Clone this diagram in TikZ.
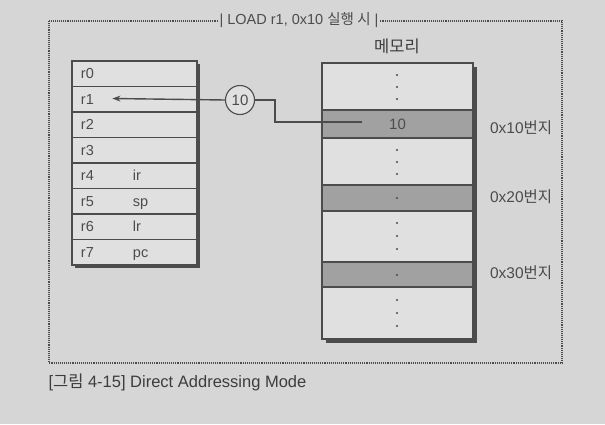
\documentclass[tikz,border=0pt]{standalone}
\usepackage{fontspec}
\setmainfont{Liberation Sans}
\newfontfamily\kr{Noto Sans CJK KR}
\usetikzlibrary{arrows.meta}

\definecolor{paper}{gray}{0.84}
\definecolor{cellbg}{gray}{0.88}
\definecolor{bandbg}{gray}{0.63}
\definecolor{ink}{gray}{0.30}

\begin{document}
\begin{tikzpicture}[
  x=1pt, y=-1pt,
  regrow/.style={draw=ink, line width=1.1pt, fill=cellbg, minimum width=125pt, minimum height=25.5pt, inner sep=0pt},
  memband/.style={draw=ink, line width=1.1pt, fill=bandbg, minimum width=151pt, inner sep=0pt},
  lbl/.style={text=ink, font=\fontsize{14.5}{16}\selectfont, text height=10pt, text depth=0pt},
  memdot/.style={fill=ink, circle, inner sep=0pt, minimum size=2.2pt},
]

% 배경과 영역
\fill[paper] (0,0) rectangle (605,424);
\useasboundingbox (0,0) rectangle (605,424);

% 점선 테두리와 제목
\draw[ink, densely dotted, line width=1.1pt] (49,21) rectangle (562,363);
\node[fill=paper, text=ink, inner xsep=2pt, font=\fontsize{14.5}{16}\selectfont] (title) at (299,20)
  {| LOAD r1, 0x10 {\kr 실행 시} |};

% 레지스터 (r0 ~ r7)
\fill[ink] (75,64) rectangle (200,268);
\foreach \i in {0,...,7} {
  \node[regrow] (r\i) at (134.5, {73.75+25.5*\i}) {};
  \node[lbl, anchor=west] at ([xshift=6pt]r\i.west) {r\i};
}
\node[lbl, anchor=west] at ([xshift=58pt]r4.west) {ir};
\node[lbl, anchor=west] at ([xshift=58pt]r5.west) {sp};
\node[lbl, anchor=west] at ([xshift=58pt]r6.west) {lr};
\node[lbl, anchor=west] at ([xshift=58pt]r7.west) {pc};

% 메모리
\node[text=ink!80!black, font=\kr\fontsize{16.5}{18}\selectfont] (memtitle) at (397,46) {메모리};
\fill[ink] (326,67) rectangle (477,343);
\draw[ink, line width=1.1pt, fill=cellbg] (322,63) rectangle (473,339);
\node[memband, minimum height=28pt] (m10) at (397.5,124) {};
\node[memband, minimum height=26pt] (m20) at (397.5,198) {};
\node[memband, minimum height=25pt] (m30) at (397.5,274.5) {};
\node[lbl, font=\fontsize{15}{17}\selectfont] at (m10) {10};

% 메모리 안의 점들
\foreach \y in {75,87,99,150,162,174,198,223,236,249,275,300,313,326}
  \node[memdot] at (397,\y) {};

% 번지 표시
\node[lbl, anchor=west, font=\fontsize{15.5}{17}\selectfont] (a10) at ([xshift=13pt, yshift=-4pt]m10.east) {0x10{\kr 번지}};
\node[lbl, anchor=west, font=\fontsize{15.5}{17}\selectfont] (a20) at ([xshift=13pt, yshift=1pt]m20.east) {0x20{\kr 번지}};
\node[lbl, anchor=west, font=\fontsize{15.5}{17}\selectfont] (a30) at ([xshift=13pt, yshift=1pt]m30.east) {0x30{\kr 번지}};

% 값 10 이 r1 으로
\node[circle, draw=ink, line width=1.1pt, fill=cellbg, minimum size=29pt, inner sep=0pt, lbl, font=\fontsize{15}{17}\selectfont] (val) at (240,100) {10};
\coordinate (src) at (362,122);
\coordinate (r1tip) at ([xshift=41pt, yshift=0.75pt]r1.west);
\draw[ink, line width=1.4pt] (src) -- ++(-87,0) |- (val.east);
\draw[ink, line width=1.4pt, -{Stealth[length=8pt, width=6pt]}] (val.west) -- (r1tip);

% 그림 설명
\node[anchor=west, text=ink!80!black, font=\fontsize{16.5}{18}\selectfont] (caption) at (45,382)
  {[{\kr 그림} 4-15] Direct Addressing Mode};

\end{tikzpicture}
\end{document}
